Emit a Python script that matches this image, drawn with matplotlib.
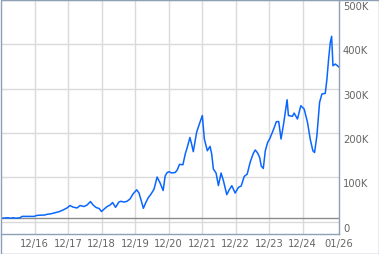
import matplotlib
matplotlib.use("Agg")
import matplotlib.pyplot as plt
from matplotlib.transforms import ScaledTranslation
from matplotlib.patches import Rectangle

# decimal-year positions of the observations
dates = [2015.91, 2016.12, 2016.18, 2016.27, 2016.36, 2016.48, 2016.54, 2016.90, 2016.99,
         2017.20, 2017.29, 2017.41, 2017.52, 2017.64, 2017.76, 2017.88, 2017.97, 2018.06,
         2018.18, 2018.27, 2018.39, 2018.48, 2018.58, 2018.66, 2018.75, 2018.84, 2018.91,
         2018.99, 2019.08, 2019.17, 2019.24, 2019.33, 2019.43, 2019.49, 2019.58, 2019.67,
         2019.76, 2019.85, 2019.96, 2020.03, 2020.09, 2020.16, 2020.24, 2020.31, 2020.39,
         2020.48, 2020.57, 2020.66, 2020.75, 2020.81, 2020.87, 2020.93, 2021.00, 2021.11,
         2021.17, 2021.24, 2021.34, 2021.41, 2021.47, 2021.55, 2021.60, 2021.65, 2021.75,
         2021.83, 2021.92, 2021.98, 2022.07, 2022.15, 2022.20, 2022.25, 2022.33, 2022.40,
         2022.48, 2022.55, 2022.65, 2022.72, 2022.80, 2022.90, 2023.00, 2023.08, 2023.17,
         2023.26, 2023.35, 2023.44, 2023.50, 2023.57, 2023.63, 2023.68, 2023.74, 2023.80,
         2023.87, 2023.93, 2024.05, 2024.13, 2024.20, 2024.27, 2024.35, 2024.45, 2024.49,
         2024.61, 2024.66, 2024.76, 2024.86, 2024.96, 2025.06, 2025.14, 2025.22, 2025.27,
         2025.34, 2025.42, 2025.49, 2025.59, 2025.64, 2025.69, 2025.74, 2025.78, 2025.82,
         2025.89, 2025.99]

# values in thousands
values = [7.7, 9.0, 7.7, 9.0, 7.7, 9.0, 12.0, 12.0, 14.4,
          15.0, 16.7, 18.0, 20.3, 22.5, 26.4, 31.0, 36.5, 33.0,
          31.0, 36.5, 34.3, 37.7, 45.5, 37.7, 32.0, 29.8, 23.0,
          28.6, 34.3, 37.7, 43.3, 32.5, 44.4, 46.0, 44.4, 46.0,
          51.2, 62.5, 72.0, 64.7, 49.0, 30.2, 44.4, 54.6, 62.5,
          73.7, 100.8, 87.3, 70.3, 103.0, 111.0, 112.7, 110.0, 111.0,
          116.6, 129.4, 128.5, 152.6, 167.8, 190.0, 175.0, 158.0, 201.6,
          220.0, 239.5, 186.5, 160.0, 170.0, 152.6, 118.8, 109.8, 81.6,
          109.8, 92.4, 61.0, 71.5, 81.2, 64.7, 77.6, 80.5, 102.0,
          107.5, 134.6, 153.8, 161.7, 155.0, 145.2, 125.6, 120.0, 160.0,
          179.0, 186.5, 209.0, 225.5, 226.0, 186.5, 222.5, 275.0, 239.5,
          237.7, 245.0, 231.6, 261.6, 254.0, 224.0, 186.5, 160.0, 156.0,
          194.0, 269.0, 288.0, 289.5, 322.0, 367.0, 404.5, 418.0, 351.7,
          355.6, 349.5]

reference_level = 7.7

x_tick_pos = [2016.917, 2017.917, 2018.917, 2019.917, 2020.917, 2021.917,
              2022.917, 2023.917, 2024.917, 2026.0]
x_tick_labels = ["12/16", "12/17", "12/18", "12/19", "12/20", "12/21",
                 "12/22", "12/23", "12/24", "01/26"]
y_tick_pos = [0, 100, 200, 300, 400, 500]
y_tick_labels = ["0", "100K", "200K", "300K", "400K", "500K"]

W, H = 379, 255
fig = plt.figure(figsize=(W / 100, H / 100), dpi=100)
fig.patch.set_facecolor("white")

frame_col = "#8e9fb8"
grid_col = "#dadada"
text_col = "#666666"

ax = fig.add_axes([1 / W, (H - 235) / H, 338 / W, 234 / H])
ax.set_facecolor("white")
ax.set_xlim(2015.91, 2026.0)
ax.set_ylim(-27.7, 500)

ax.set_xticks(x_tick_pos[:-1])
ax.set_yticks(y_tick_pos)
ax.grid(True, color=grid_col, linewidth=1.0)
ax.set_axisbelow(True)

ax.axhline(reference_level, color="#8c8c8c", linewidth=1.0, zorder=2)
ax.plot(dates, values, color="#0a66ff", linewidth=1.1, zorder=3)

for s in ["left", "top"]:
    ax.spines[s].set_visible(False)
for s in ["right", "bottom"]:
    ax.spines[s].set_color(frame_col)
    ax.spines[s].set_linewidth(1.0)

ax.tick_params(length=0)
ax.set_xticklabels([])
ax.set_yticklabels([])

# y labels on right, below gridline
for v, lab in zip(y_tick_pos, y_tick_labels):
    ax.text(1.0, v, lab, transform=ax.get_yaxis_transform() +
            ScaledTranslation(4 / 100, -6 / 100, fig.dpi_scale_trans),
            ha="left", va="center", fontsize=7.2, color=text_col,
            clip_on=False)

for xp, lab in zip(x_tick_pos, x_tick_labels):
    ax.text(xp, 0, lab, transform=ax.get_xaxis_transform() +
            ScaledTranslation(0, -9 / 100, fig.dpi_scale_trans),
            ha="center", va="center", fontsize=7.2, color=text_col,
            clip_on=False)

# outer frame
fig.patches.append(Rectangle((0.5 / W, 0.5 / H), (W - 1) / W, (H - 1) / H,
                             transform=fig.transFigure, fill=False,
                             edgecolor=frame_col, linewidth=1.0))

fig.savefig("out.png", dpi=100)
